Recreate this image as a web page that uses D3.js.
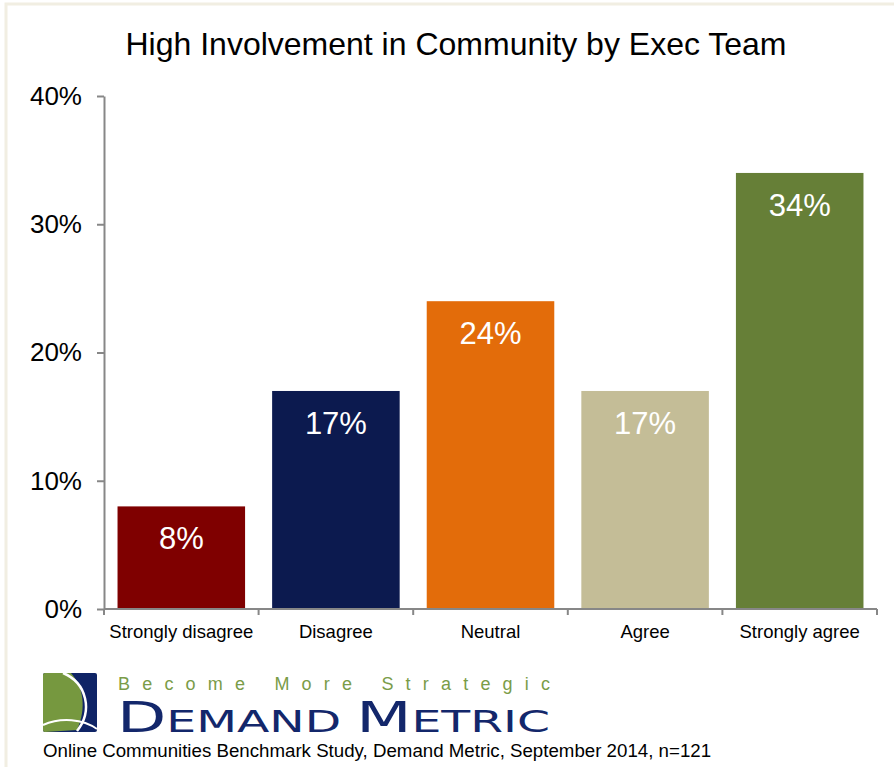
<!DOCTYPE html>
<html>
<head>
<meta charset="utf-8">
<script src="https://cdn.jsdelivr.net/npm/d3@7/dist/d3.min.js"></script>
<style>
  html, body { margin: 0; padding: 0; background: #fff; }
  svg { display: block; font-family: "Liberation Sans", Arial, sans-serif; }
</style>
</head>
<body>
<svg id="chart" width="894" height="767"></svg>
<script>
// Survey responses: share of respondents per agreement level
const categories = ["Strongly disagree", "Disagree", "Neutral", "Agree", "Strongly agree"];
const values = [8, 17, 24, 17, 34];
const barColors = ["#7f0000", "#0c1a4f", "#e36c0a", "#c4bd97", "#667f37"];
const yTicks = [0, 10, 20, 30, 40];

const svg = d3.select("#chart");
const W = 894, H = 767;

// slide frame
svg.append("path")
  .attr("d", `M6,${H} V4 H${W}`)
  .attr("fill", "none")
  .attr("stroke", "#f1eee2")
  .attr("stroke-width", 3);

const plot = { left: 104, right: 877, top: 96, bottom: 609 };

const x = d3.scaleBand()
  .domain(categories)
  .range([plot.left, plot.right])
  .paddingInner(0.175)
  .paddingOuter(0.0875);

const y = d3.scaleLinear()
  .domain([0, 40])
  .range([plot.bottom, plot.top]);

// title
svg.append("text")
  .attr("x", 456)
  .attr("y", 55)
  .attr("text-anchor", "middle")
  .attr("font-size", 32)
  .attr("fill", "#000")
  .text("High Involvement in Community by Exec Team");

// bars
svg.append("g")
  .selectAll("rect")
  .data(values)
  .join("rect")
  .attr("x", (d, i) => x(categories[i]))
  .attr("y", d => y(d))
  .attr("width", x.bandwidth())
  .attr("height", d => y(0) - y(d))
  .attr("fill", (d, i) => barColors[i]);

// value labels inside the bars
svg.append("g")
  .selectAll("text")
  .data(values)
  .join("text")
  .attr("x", (d, i) => x(categories[i]) + x.bandwidth() / 2)
  .attr("y", d => y(d) + 43)
  .attr("text-anchor", "middle")
  .attr("font-size", 31)
  .attr("fill", "#fff")
  .text(d => d + "%");

const axisColor = "#878787";

// y axis
const yAxis = svg.append("g")
  .attr("transform", `translate(${plot.left},0)`)
  .call(d3.axisLeft(y).tickValues(yTicks).tickFormat(d => d + "%").tickSize(7).tickSizeOuter(0).tickPadding(15));
yAxis.select(".domain").attr("stroke", axisColor).attr("stroke-width", 2);
yAxis.selectAll(".tick line").attr("stroke", axisColor).attr("stroke-width", 2);
yAxis.selectAll(".tick text")
  .attr("font-size", 26)
  .attr("fill", "#000")
  .attr("font-family", "Liberation Sans, Arial, sans-serif");

// x axis: domain line with tick marks at band boundaries
const xAxis = svg.append("g");
xAxis.append("line")
  .attr("x1", plot.left).attr("x2", plot.right)
  .attr("y1", plot.bottom).attr("y2", plot.bottom)
  .attr("stroke", axisColor).attr("stroke-width", 2);
const boundaries = d3.range(categories.length + 1).map(i => plot.left + i * (plot.right - plot.left) / categories.length);
xAxis.selectAll("line.sep")
  .data(boundaries)
  .join("line")
  .attr("class", "sep")
  .attr("x1", d => d).attr("x2", d => d)
  .attr("y1", plot.bottom).attr("y2", plot.bottom + 6)
  .attr("stroke", axisColor).attr("stroke-width", 2);
xAxis.selectAll("text")
  .data(categories)
  .join("text")
  .attr("x", d => x(d) + x.bandwidth() / 2)
  .attr("y", 638)
  .attr("text-anchor", "middle")
  .attr("font-size", 18.5)
  .attr("fill", "#000")
  .text(d => d);

// brand mark
const logo = svg.append("g").attr("transform", "translate(43,673)");
logo.append("rect").attr("width", 54).attr("height", 59).attr("rx", 2).attr("fill", "#0f2466");
logo.append("path")
  .attr("d", "M2,0 H28 C40,14 44,34 34,57 L2,59 Q0,59 0,57 V2 Q0,0 2,0 Z")
  .attr("fill", "#76983f");
logo.append("path")
  .attr("d", "M20,0 C44,10 50,38 34,58")
  .attr("fill", "none").attr("stroke", "#fff").attr("stroke-width", 2.5);
logo.append("path")
  .attr("d", "M0,52 C18,44 40,46 54,56")
  .attr("fill", "none").attr("stroke", "#fff").attr("stroke-width", 2);

svg.append("text")
  .attr("x", 118).attr("y", 690)
  .attr("font-size", 18)
  .attr("fill", "#7a9c48")
  .attr("textLength", 432)
  .attr("lengthAdjust", "spacing")
  .text("Become More Strategic");

const brand = svg.append("text")
  .attr("x", 117).attr("y", 732)
  .attr("fill", "#13276b")
  .attr("font-family", "DejaVu Sans, sans-serif")
  .attr("textLength", 433)
  .attr("lengthAdjust", "spacingAndGlyphs");
[["D", 42], ["EMAND ", 31], ["M", 42], ["ETRIC", 31]].forEach(([t, s]) => {
  brand.append("tspan").attr("font-size", s).text(t);
});

svg.append("text")
  .attr("x", 43).attr("y", 757)
  .attr("font-size", 18.7)
  .attr("fill", "#000")
  .text("Online Communities Benchmark Study, Demand Metric, September 2014, n=121");
</script>
</body>
</html>
